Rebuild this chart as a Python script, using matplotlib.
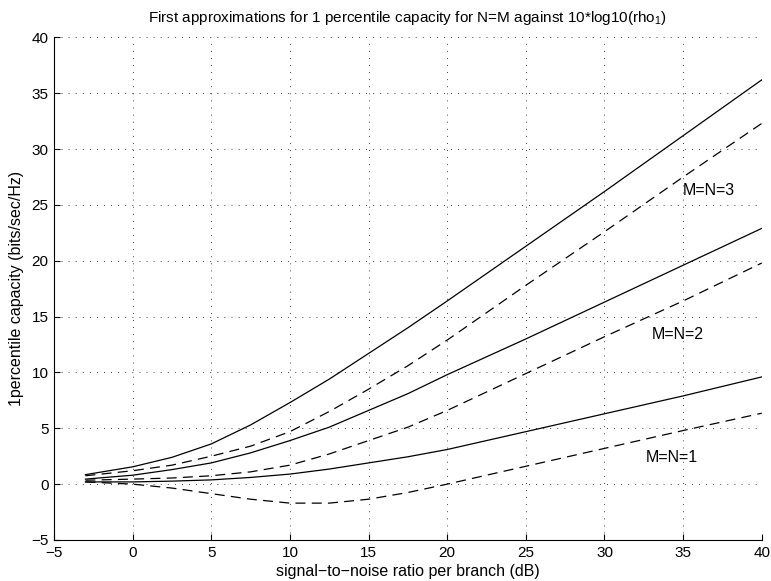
import numpy as np
import matplotlib
matplotlib.use("Agg")
import matplotlib.pyplot as plt

plt.rcParams['font.family'] = ['Liberation Sans', 'DejaVu Sans']
plt.rcParams['mathtext.default'] = 'regular'

# SNR per branch (dB)
snr = [-3, 0, 2.5, 5, 7.5, 10, 12.5, 15, 17.5, 20, 25, 30, 35, 40]

# solid curves
cap3 = [0.85, 1.55, 2.4, 3.6, 5.3, 7.3, 9.4, 11.7, 14.0, 16.4, 21.3, 26.2, 31.2, 36.2]
cap2 = [0.45, 0.8, 1.3, 1.9, 2.8, 3.9, 5.1, 6.6, 8.1, 9.8, 13.0, 16.3, 19.6, 22.9]
cap1 = [0.2, 0.2, 0.27, 0.38, 0.6, 0.9, 1.35, 1.9, 2.45, 3.1, 4.7, 6.3, 7.9, 9.6]

# dashed curves (first approximations)
approx3 = [0.75, 1.2, 1.7, 2.5, 3.4, 4.7, 6.5, 8.5, 10.6, 12.9, 17.8, 22.6, 27.5, 32.3]
approx2 = [0.35, 0.45, 0.55, 0.75, 1.1, 1.7, 2.7, 3.9, 5.1, 6.6, 9.9, 13.2, 16.4, 19.8]
approx1 = [0.2, 0.0, -0.35, -0.85, -1.35, -1.7, -1.7, -1.35, -0.75, 0.0, 1.6, 3.2, 4.8, 6.35]

labels = ["M=N=3", "M=N=2", "M=N=1"]
label_pos = [(35, 26.3), (33, 13.4), (32.6, 2.4)]

fig = plt.figure(figsize=(7.71, 5.81), dpi=100)
ax = fig.add_axes([0.070, 0.0706, 0.918, 0.865])

for y in [cap3, cap2, cap1]:
    ax.plot(snr, y, color="black", linewidth=0.9)
for y in [approx3, approx2, approx1]:
    ax.plot(snr, y, color="black", linewidth=0.9, dashes=(8, 5))

for txt, (tx, ty) in zip(labels, label_pos):
    ax.text(tx, ty, txt, fontsize=11.5, ha="left", va="center")

ax.set_xlim(-5, 40)
ax.set_ylim(-5, 40)
ax.set_xticks(np.arange(-5, 41, 5))
ax.set_yticks(np.arange(-5, 41, 5))
ax.grid(True, color="black", linestyle=(0, (1, 7.5)), linewidth=0.6)
ax.spines["top"].set_visible(False)
ax.spines["right"].set_visible(False)
ax.tick_params(direction="in", labelsize=11, pad=4, width=0.8, length=4)

ax.set_title("First approximations for 1 percentile capacity for N=M against 10*log10(rho$_1$)",
             fontsize=11, pad=11)
ax.set_xlabel("signal\u2212to\u2212noise ratio per branch (dB)", fontsize=11.5, labelpad=3)
ax.set_ylabel("1percentile capacity (bits/sec/Hz)", fontsize=11.5, labelpad=5)

fig.savefig("out.png", dpi=100)
